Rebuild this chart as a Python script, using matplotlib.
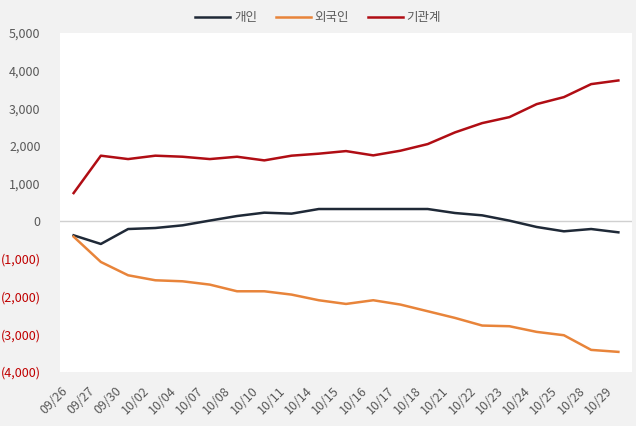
import matplotlib
matplotlib.use("Agg")
import matplotlib.pyplot as plt
from matplotlib.transforms import ScaledTranslation

plt.rcParams['font.family'] = ['Noto Sans CJK KR', 'DejaVu Sans']

dates = ["09/26", "09/27", "09/30", "10/02", "10/04", "10/07", "10/08", "10/10", "10/11",
         "10/14", "10/15", "10/16", "10/17", "10/18", "10/21", "10/22", "10/23", "10/24",
         "10/25", "10/28", "10/29"]
individual = [-371, -601, -204, -177, -106, 20, 141, 230, 204, 327, 327, 327, 327, 327,
              221, 159, 18, -150, -265, -204, -292]
foreign = [-407, -1079, -1432, -1565, -1592, -1680, -1857, -1857, -1945, -2095, -2193,
           -2095, -2210, -2387, -2564, -2767, -2785, -2935, -3024, -3413, -3466]
institution = [750, 1743, 1653, 1743, 1715, 1653, 1715, 1618, 1743, 1796, 1865, 1751,
               1875, 2051, 2361, 2608, 2767, 3112, 3298, 3643, 3740]
series_names = ["개인", "외국인", "기관계"]
yticks = [5000, 4000, 3000, 2000, 1000, 0, -1000, -2000, -3000, -4000]

colors = ["#1f2937", "#e8843a", "#b00d14"]

fig = plt.figure(figsize=(6.36, 4.26), dpi=100, facecolor="#f2f2f2")
ax = fig.add_axes([60/636, 54/426, 572/636, 339/426])
ax.set_facecolor("white")

x = list(range(len(dates)))
for vals, name, c in zip([individual, foreign, institution], series_names, colors):
    ax.plot(x, vals, color=c, lw=1.8, label=name, solid_joinstyle="round")

ax.axhline(0, color="#d0d0d0", lw=1, zorder=0)
ax.set_ylim(-4000, 5000)
ax.set_xlim(-0.5, len(dates) - 0.5)
ax.set_yticks(yticks)

def fmt(v):
    if v < 0:
        return "({:,})".format(-v)
    return "{:,}".format(v)

ax.set_yticklabels([fmt(v) for v in yticks])
for lbl, v in zip(ax.get_yticklabels(), yticks):
    lbl.set_color("#c00000" if v < 0 else "#595959")
    lbl.set_fontsize(9)

ax.set_xticks(x)
ax.set_xticklabels(dates, rotation=45, ha="right", va="center", rotation_mode="anchor",
                   fontsize=9, color="#595959")
ax.tick_params(axis="both", length=0)
ax.tick_params(axis="y", pad=14)
ax.tick_params(axis="x", pad=12)
shift = ScaledTranslation(-6/72, 0, fig.dpi_scale_trans)
for lbl in ax.get_xticklabels():
    lbl.set_transform(lbl.get_transform() + shift)
for s in ax.spines.values():
    s.set_visible(False)

fig.legend(loc="upper center", bbox_to_anchor=(0.5, 1.0), ncol=3, frameon=False,
           fontsize=9, handlelength=2.8, columnspacing=1.5, handletextpad=0.3,
           labelcolor="#595959")

fig.savefig("out.png", dpi=100, facecolor=fig.get_facecolor())
